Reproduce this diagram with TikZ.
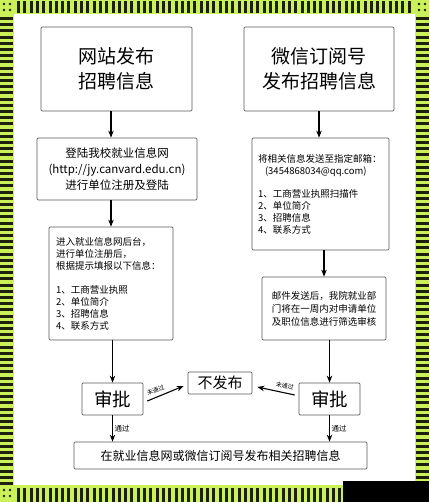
\documentclass[tikz,border=0pt]{standalone}
\usepackage{fontspec}
\setmainfont{Noto Sans CJK SC}
\usetikzlibrary{arrows.meta}

\definecolor{stripegreen}{RGB}{202,240,90}
\definecolor{stripedark}{RGB}{28,32,12}

\begin{document}
\begin{tikzpicture}[x=1pt, y=-1pt,
  box/.style={draw=black!65, line width=0.7pt, rounded corners=1.2pt, fill=white, inner sep=0pt, align=center},
  arr/.style={-{Stealth[length=7pt,width=5.5pt]}, line width=1.1pt},
  lbl/.style={font=\fontsize{7.5}{8}\selectfont, inner sep=1.5pt},
  tiny/.style={font=\fontsize{6}{6}\selectfont, inner sep=0.5pt}
]
\useasboundingbox (0,0) rectangle (429,502);

% ---------- frame ----------
\fill[stripegreen] (0,0) rectangle (429,502);
\fill[white] (14,14) rectangle (415,485);
\foreach \x in {17,23.3,...,412} {
  \fill[stripedark] (\x,1) rectangle ++(3,12);
  \fill[stripedark] (\x,488) rectangle ++(3,14);
}
\foreach \y in {17,23.2,...,482} {
  \fill[stripedark] (0,\y) rectangle ++(13,3);
  \fill[stripedark] (416,\y) rectangle ++(13,3);
}
\foreach \cx/\cy in {0/0, 415/0, 0/486} {
  \foreach \dx/\dy in {4/4, 10/4, 4/10, 10/10}
    \fill[stripedark] (\cx+\dx,\cy+\dy) circle (1.3);
}
\fill[black] (343,481) rectangle (429,502);

% ---------- top boxes ----------
\node[box, minimum width=151pt, minimum height=84pt, font=\fontsize{19}{25}\selectfont] (web) at (116.5,69) {网站发布\\招聘信息};
\node[box, minimum width=150pt, minimum height=84pt, font=\fontsize{19}{25}\selectfont] (wx) at (319,69) {微信订阅号\\发布招聘信息};

% ---------- left branch ----------
\node[box, minimum width=160pt, minimum height=62pt, font=\fontsize{11.5}{16}\selectfont] (login) at (117,169)
  {登陆我校就业信息网\\(http://jy.canvard.edu.cn)\\进行单位注册及登陆};
\node[box, minimum width=124pt, minimum height=113pt, text width=110pt, inner xsep=7pt, align=left,
  font=\fontsize{9.5}{12}\selectfont] (reg) at (111,283.5)
  {进入就业信息网后台，\\进行单位注册后，\\根据提示填报以下信息：\\[12pt]1、工商营业执照\\2、单位简介\\3、招聘信息\\4、联系方式};

% ---------- right branch ----------
\node[box, minimum width=137pt, minimum height=112pt, text width=125pt, inner xsep=6pt, align=left,
  font=\fontsize{9.5}{12}\selectfont] (mail) at (320.5,194)
  {将相关信息发送至指定邮箱：\\\hspace*{7pt}(3454868034@qq.com)\\[11pt]1、工商营业执照扫描件\\2、单位简介\\3、招聘信息\\4、联系方式};
\node[box, minimum width=124pt, minimum height=63pt, font=\fontsize{9.5}{13}\selectfont] (check) at (324,308.5)
  {邮件发送后，我院就业部\\门将在一周内对申请单位\\及职位信息进行筛选审核};

% ---------- decision ----------
\node[box, minimum width=61pt, minimum height=32pt, font=\fontsize{18.5}{20}\selectfont] (shenL) at (112.5,399) {审批};
\node[box, minimum width=61pt, minimum height=32pt, font=\fontsize{18.5}{20}\selectfont] (shenR) at (329.5,399) {审批};
\node[box, minimum width=64pt, minimum height=22pt, font=\fontsize{15}{16}\selectfont] (nopub) at (220,383) {不发布};
\node[box, minimum width=293pt, minimum height=27pt, font=\fontsize{12}{14}\selectfont] (pub) at (220.5,455.5)
  {在就业信息网或微信订阅号发布相关招聘信息};

% ---------- arrows ----------
\draw[arr] (web.south -| reg.north) -- (login.north -| reg.north);
\draw[arr] (login.south -| reg.north) -- (reg.north);
\draw[arr] (reg.south -| shenL.north) -- (shenL.north);
\draw[arr] (wx.south) -- (wx.south |- mail.north);
\draw[arr] (mail.south -| check.north) -- (check.north);
\draw[arr] (check.south -| shenR.north) -- (shenR.north);

\draw[arr] ([shift={(4,2)}]shenL.east) -- node[tiny, pos=0.3, above=3pt, sloped] {未通过} ([shift={(-4,3)}]nopub.west);
\draw[arr] ([shift={(-4,-4)}]shenR.west) -- node[tiny, pos=0.3, above=3pt, sloped] {未通过} ([shift={(5,4)}]nopub.east);

\draw[arr] (shenL.south) -- node[lbl, right] {通过} (shenL.south |- pub.north);
\draw[arr] (shenR.south) -- node[lbl, right] {通过} (shenR.south |- pub.north);

\end{tikzpicture}
\end{document}
